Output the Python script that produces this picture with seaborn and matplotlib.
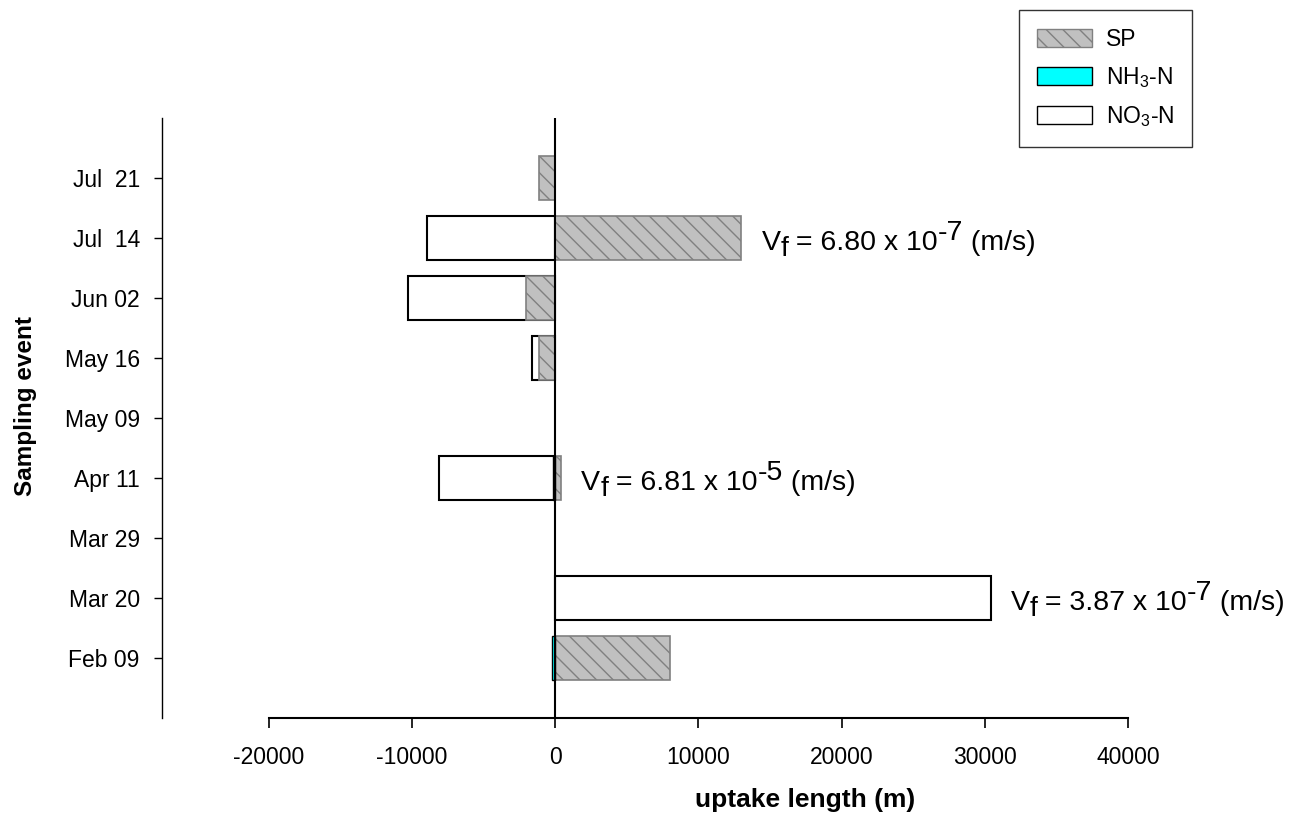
import numpy as np
import pandas as pd
import matplotlib
matplotlib.use("Agg")
import matplotlib.pyplot as plt
import seaborn as sns
from matplotlib.patches import Patch

# ---- data ----
events = ["Jul  21", "Jul  14", "Jun 02", "May 16", "May 09",
          "Apr 11", "Mar 29", "Mar 20", "Feb 09"]
sp_vals = [-1150, 13000, -2020, -1150, np.nan, 420, np.nan, np.nan, 8000]
nh3_vals = [np.nan, np.nan, np.nan, np.nan, np.nan, -170, np.nan, np.nan, -210]
no3_vals = [np.nan, -8950, -10300, -1600, np.nan, -8100, np.nan, 30400, np.nan]
x_ticks = [-20000, -10000, 0, 10000, 20000, 30000, 40000]
annot_events = ["Jul  14", "Apr 11", "Mar 20"]
annot_mantissa = ["6.80", "6.81", "3.87"]
annot_exponent = ["-7", "-5", "-7"]

sns.set_theme(style="white")
plt.rcParams["font.family"] = ["Liberation Sans", "DejaVu Sans"]
plt.rcParams["mathtext.fontset"] = "custom"
plt.rcParams["mathtext.rm"] = "Liberation Sans"
plt.rcParams["mathtext.it"] = "Liberation Sans:italic"
plt.rcParams["mathtext.bf"] = "Liberation Sans:bold"
plt.rcParams["hatch.linewidth"] = 1.0
for k in ["text.color", "axes.labelcolor", "xtick.color", "ytick.color", "axes.edgecolor"]:
    plt.rcParams[k] = "black"

df = pd.DataFrame({"event": events, "SP": sp_vals, "NH3": nh3_vals, "NO3": no3_vals})

fig = plt.figure(figsize=(12.89, 8.16), dpi=100)
ax = fig.add_axes([162/1289, 98/816, (1128-162)/1289, 600/816])

bw = 0.72
sns.barplot(data=df, x="NO3", y="event", order=events, orient="h", ax=ax,
            color="white", edgecolor="black", linewidth=1.5, width=bw,
            errorbar=None, saturation=1)
sns.barplot(data=df, x="SP", y="event", order=events, orient="h", ax=ax,
            color="#c0c0c0", edgecolor="#808080", linewidth=1.2, width=bw,
            errorbar=None, saturation=1, hatch="\\\\")
sns.barplot(data=df, x="NH3", y="event", order=events, orient="h", ax=ax,
            color="cyan", edgecolor="black", linewidth=1.0, width=bw,
            errorbar=None, saturation=1)

ax.axvline(0, color="black", lw=1.5, zorder=5)

ax.set_xlim(-27470, 40000)
ax.set_ylim(9, -1)
ax.set_xticks(x_ticks)
ax.set_xticklabels([str(t) for t in x_ticks])
ax.tick_params(axis="x", direction="out", length=7, width=1.2, pad=13, bottom=True, labelsize=16.5)
ax.tick_params(axis="y", direction="out", length=6, width=1.0, pad=10, left=True, labelsize=16.5)

for s in ["top", "right"]:
    ax.spines[s].set_visible(False)
ax.spines["bottom"].set_bounds(-20000, 40000)
ax.spines["bottom"].set_linewidth(1.5)
ax.spines["left"].set_linewidth(1.0)

ax.set_xlabel("uptake length (m)", fontsize=19, fontweight="bold")
ax.set_ylabel("Sampling event", fontsize=17.5, fontweight="bold")
ax.xaxis.set_label_coords((805-162)/966, (718-788)/600)
ax.yaxis.set_label_coords((37-162)/966, (718-406)/600)

# annotations: rich text with full-size sub/superscripts, placed piece by piece
fig.canvas.draw()
renderer = fig.canvas.get_renderer()
FS = 20.5
for ev, man, ex in zip(annot_events, annot_mantissa, annot_exponent):
    i = events.index(ev)
    xend = np.nanmax([v for v in (sp_vals[i], nh3_vals[i], no3_vals[i]) if not np.isnan(v)] + [0])
    pieces = [("V", -12.0), ("f", -18.0), (" = " + man + " x 10", -12.0),
              (ex, -2.0), (" (m/s)", -12.0)]
    dx = 20.0
    for txt, dy in pieces:
        t = ax.annotate(txt, xy=(xend, i), xytext=(dx, dy), textcoords="offset pixels",
                        ha="left", va="baseline", fontsize=FS)
        bb = t.get_window_extent(renderer)
        dx += bb.width

handles = [Patch(facecolor="#c0c0c0", edgecolor="#808080", hatch="\\\\", label="SP"),
           Patch(facecolor="cyan", edgecolor="black", label="NH$_{\\mathrm{3}}$-N"),
           Patch(facecolor="white", edgecolor="black", label="NO$_{\\mathrm{3}}$-N")]
leg = fig.legend(handles=handles, loc="upper right", bbox_to_anchor=(1192/1289, 1-10/816),
                 fontsize=16.5, frameon=True, fancybox=False, edgecolor="black",
                 handlelength=2.4, handleheight=0.8, labelspacing=0.62,
                 borderpad=0.78, handletextpad=0.6, borderaxespad=0)
leg.get_frame().set_linewidth(1.0)

fig.savefig("out.png", dpi=100)
